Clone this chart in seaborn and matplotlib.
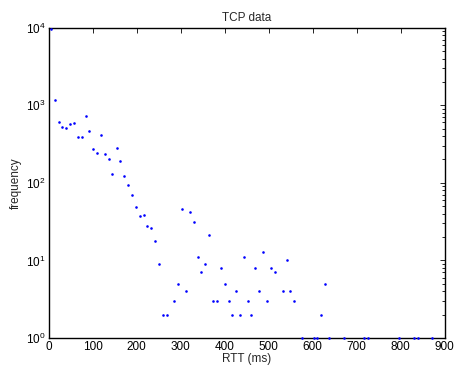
import pandas as pd
import numpy as np
import matplotlib
matplotlib.use("Agg")
import matplotlib.pyplot as plt
import seaborn as sns

# histogram of RTT values (empty bins are not drawn on log axis)
rtt_ms = [4.5, 13.6, 22.7, 31, 40, 49, 57.5, 66, 75, 84, 92, 101, 110, 119, 128,
          136, 145, 154.5, 163, 172, 180, 189, 198.4, 207.5, 216, 224, 233, 242,
          250.7, 259, 268, 285, 294.5, 303, 312, 321, 329.5, 338.6, 347, 356, 365,
          373.4, 382.5, 391.6, 400, 409, 417, 426, 435, 444, 453, 461, 470, 478.6,
          488, 497, 505, 514, 532, 541, 549, 558, 575.5, 603, 611, 619.5, 628.6,
          637, 672, 717, 725, 796, 830, 839, 872]
frequency = [9500, 1170, 600, 527, 503, 571, 583, 385, 389, 722, 469, 273, 245, 409, 235,
             205, 128, 279, 190, 122, 94, 69, 49, 37, 38, 28, 26, 18,
             9, 2, 2, 3, 5, 46, 4, 42, 31, 11, 7, 9, 21,
             3, 3, 8, 5, 3, 2, 4, 2, 11, 3, 2, 8, 4,
             13, 3, 8, 7, 4, 10, 4, 3, 1, 1, 1, 2, 5,
             1, 1, 1, 1, 1, 1, 1, 1]

df = pd.DataFrame({'rtt': rtt_ms, 'freq': frequency})

sns.set_theme(style="white")
plt.rcParams['font.family'] = ['Liberation Sans', 'DejaVu Sans']
plt.rcParams['mathtext.fontset'] = 'custom'
plt.rcParams['mathtext.rm'] = 'Liberation Sans'
plt.rcParams['mathtext.it'] = 'Liberation Sans'

fig = plt.figure(figsize=(4.55, 3.66), dpi=100)
ax = fig.add_axes([0.107, 0.0765, 0.870, 0.848])

sns.scatterplot(data=df, x='rtt', y='freq', ax=ax, color='#0000ff', s=3.5,
                linewidth=0, marker='o', clip_on=False, zorder=5)

ax.set_yscale('log')
ax.set_xlim(0, 900)
ax.set_ylim(1, 1e4)
ax.set_xticks(range(0, 901, 100))

ax.set_xlabel("RTT (ms)", fontsize=8.5, labelpad=0)
ax.set_ylabel("frequency", fontsize=8.5, labelpad=3)
ax.set_title("TCP data", fontsize=8.5, pad=5)

for side in ['top', 'bottom', 'left', 'right']:
    ax.spines[side].set_color('black')
    ax.spines[side].set_linewidth(1.0)
    ax.spines[side].set_visible(True)

ax.tick_params(which='both', direction='in', top=True, right=True,
               labelsize=8.5, colors='black', width=0.6)
ax.tick_params(which='major', length=3.5, pad=2.5)
ax.tick_params(which='minor', length=2)
ax.tick_params(axis='x', which='minor', bottom=False, top=False)

plt.savefig("out.png", dpi=100)
